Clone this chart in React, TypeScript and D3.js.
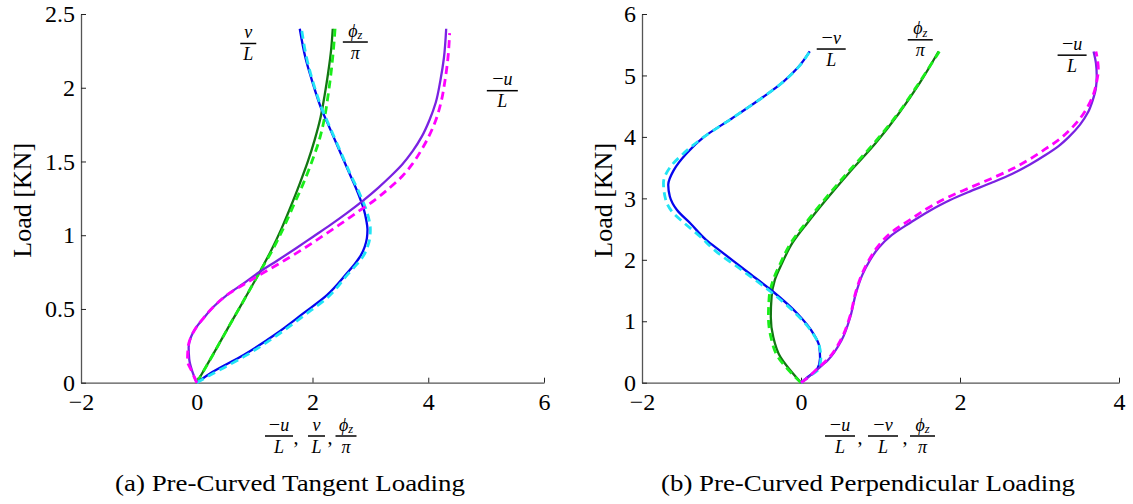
import React, { useEffect, useRef } from "react";
import * as d3 from "d3";

type Pt = [number, number];

// ---------- Panel (a): Pre-Curved Tangent Loading  [ratio, load kN] ----------
const aUSolid: Pt[] = [
  [0, 0], [-0.08, 0.08], [-0.13, 0.16], [-0.14, 0.24], [-0.1, 0.31], [0, 0.38],
  [0.115, 0.436], [0.29, 0.515], [0.52, 0.594], [0.81, 0.673], [1.09, 0.752],
  [1.4, 0.83], [1.71, 0.91], [2.01, 0.99], [2.31, 1.07], [2.61, 1.155],
  [2.89, 1.24], [3.13, 1.32], [3.35, 1.4], [3.55, 1.48], [3.73, 1.57],
  [3.89, 1.67], [4.02, 1.78], [4.13, 1.9], [4.21, 2.05], [4.27, 2.2], [4.31, 2.4],
];
const aUDashed: Pt[] = [
  [0, 0], [-0.09, 0.08], [-0.16, 0.15], [-0.15, 0.24], [-0.1, 0.31], [0, 0.38],
  [0.12, 0.44], [0.29, 0.515], [0.52, 0.594], [0.84, 0.673], [1.18, 0.752],
  [1.52, 0.83], [1.85, 0.91], [2.16, 0.99], [2.46, 1.07], [2.77, 1.155],
  [3.08, 1.24], [3.33, 1.32], [3.55, 1.4], [3.72, 1.48], [3.87, 1.57],
  [4.01, 1.67], [4.13, 1.78], [4.22, 1.9], [4.29, 2.05], [4.34, 2.2], [4.37, 2.37],
];
const aVSolid: Pt[] = [
  [0, 0], [0.23, 0.063], [0.81, 0.188], [1.38, 0.334], [1.84, 0.47], [2.25, 0.594],
  [2.59, 0.74], [2.72, 0.8], [2.83, 0.86], [2.9, 0.92], [2.94, 0.98], [2.95, 1.04],
  [2.93, 1.1], [2.89, 1.17], [2.83, 1.24], [2.75, 1.32], [2.66, 1.4], [2.56, 1.49],
  [2.46, 1.58], [2.36, 1.67], [2.26, 1.76], [2.16, 1.85], [2.07, 1.95],
  [1.99, 2.05], [1.88, 2.2], [1.78, 2.4],
];
const aVDashed: Pt[] = [
  [0, 0], [0.25, 0.055], [0.83, 0.18], [1.4, 0.325], [1.87, 0.46], [2.28, 0.585],
  [2.62, 0.74], [2.76, 0.8], [2.88, 0.86], [2.95, 0.92], [2.99, 0.98], [3.0, 1.04],
  [2.98, 1.1], [2.93, 1.17], [2.86, 1.24], [2.77, 1.32], [2.67, 1.4], [2.57, 1.49],
  [2.47, 1.58], [2.37, 1.67], [2.27, 1.76], [2.17, 1.85], [2.08, 1.95],
  [2.0, 2.05], [1.9, 2.2], [1.81, 2.4],
];
const aPhiSolid: Pt[] = [
  [0, 0], [0.28, 0.19], [0.56, 0.385], [0.83, 0.57], [1.09, 0.752], [1.29, 0.9],
  [1.47, 1.05], [1.63, 1.2], [1.78, 1.35], [1.92, 1.5], [2.04, 1.65], [2.14, 1.8],
  [2.21, 1.95], [2.27, 2.1], [2.32, 2.25], [2.35, 2.4],
];
const aPhiDashed: Pt[] = [
  [0, 0], [0.28, 0.19], [0.56, 0.385], [0.83, 0.57], [1.09, 0.752], [1.31, 0.9],
  [1.5, 1.05], [1.67, 1.2], [1.84, 1.35], [1.99, 1.5], [2.12, 1.65], [2.21, 1.8],
  [2.27, 1.95], [2.32, 2.1], [2.36, 2.25], [2.39, 2.4],
];
const aXTicks = [-2, 0, 2, 4, 6];
const aYTicks = [0, 0.5, 1, 1.5, 2, 2.5];

// ---------- Panel (b): Pre-Curved Perpendicular Loading ----------
const bUSolid: Pt[] = [
  [0, 0], [0.1, 0.1], [0.19, 0.2], [0.34, 0.37], [0.51, 0.69], [0.62, 1.07],
  [0.69, 1.45], [0.77, 1.75], [0.87, 2.0], [0.98, 2.2], [1.14, 2.4], [1.37, 2.6],
  [1.62, 2.8], [1.87, 2.97], [2.1, 3.1], [2.39, 3.25], [2.66, 3.4], [2.88, 3.55],
  [3.07, 3.7], [3.24, 3.85], [3.37, 4.0], [3.51, 4.2], [3.61, 4.4], [3.67, 4.6],
  [3.71, 4.8], [3.72, 5.0], [3.71, 5.2], [3.68, 5.39],
];
const bUDashed: Pt[] = [
  [0, 0], [0.1, 0.1], [0.19, 0.21], [0.34, 0.39], [0.51, 0.72], [0.62, 1.1],
  [0.69, 1.48], [0.77, 1.78], [0.87, 2.03], [0.98, 2.24], [1.14, 2.45], [1.37, 2.65],
  [1.62, 2.86], [1.87, 3.03], [2.1, 3.16], [2.39, 3.32], [2.66, 3.48], [2.88, 3.64],
  [3.07, 3.8], [3.24, 3.95], [3.37, 4.1], [3.51, 4.3], [3.61, 4.5], [3.68, 4.7],
  [3.72, 4.9], [3.74, 5.1], [3.73, 5.25], [3.71, 5.39],
];
const bVSolid: Pt[] = [
  [0, 0], [0.09, 0.1], [0.2, 0.21], [0.24, 0.4], [0.23, 0.59], [0.155, 0.8],
  [-0.05, 1.13], [-0.35, 1.48], [-0.68, 1.81], [-1.02, 2.15], [-1.19, 2.32],
  [-1.39, 2.59], [-1.56, 2.81], [-1.65, 3.03], [-1.67, 3.22], [-1.6, 3.46],
  [-1.44, 3.73], [-1.22, 4.0], [-0.87, 4.3], [-0.53, 4.6], [-0.22, 4.9],
  [-0.03, 5.14], [0.11, 5.39],
];
const bVDashed: Pt[] = [
  [0, 0], [0.1, 0.1], [0.22, 0.22], [0.25, 0.4], [0.23, 0.6], [0.14, 0.82],
  [-0.07, 1.13], [-0.38, 1.48], [-0.72, 1.81], [-1.08, 2.15], [-1.27, 2.38],
  [-1.47, 2.6], [-1.6, 2.75], [-1.7, 2.97], [-1.73, 3.25], [-1.65, 3.5],
  [-1.47, 3.74], [-1.22, 4.0], [-0.87, 4.3], [-0.53, 4.6], [-0.22, 4.9],
  [-0.03, 5.14], [0.11, 5.39],
];
const bPhiSolid: Pt[] = [
  [0, 0], [-0.14, 0.21], [-0.26, 0.42], [-0.35, 0.75], [-0.38, 1.07], [-0.37, 1.4],
  [-0.33, 1.67], [-0.24, 1.94], [-0.11, 2.27], [0.08, 2.6], [0.31, 2.97],
  [0.6, 3.41], [0.94, 3.9], [1.23, 4.38], [1.49, 4.87], [1.73, 5.39],
];
const bPhiDashed: Pt[] = [
  [0, 0], [-0.16, 0.21], [-0.29, 0.42], [-0.38, 0.75], [-0.41, 1.07], [-0.4, 1.4],
  [-0.35, 1.67], [-0.26, 1.94], [-0.13, 2.27], [0.06, 2.6], [0.29, 2.97],
  [0.58, 3.41], [0.92, 3.9], [1.22, 4.38], [1.48, 4.87], [1.74, 5.39],
];
const bXTicks = [-2, 0, 2, 4];
const bYTicks = [0, 1, 2, 3, 4, 5, 6];

const captions = ["(a) Pre-Curved Tangent Loading", "(b) Pre-Curved Perpendicular Loading"];
const yLabel = "Load [KN]";

// ---------- styling ----------
const W = 1133;
const H = 504;
const FONT = "'Liberation Serif', 'Times New Roman', Times, serif";
const C = {
  uSolid: "#7a22e2",
  uDashed: "#ff00ff",
  vSolid: "#0505ee",
  vDashed: "#22e4f4",
  phiSolid: "#127712",
  phiDashed: "#1aee1a",
};

type Part = { t: string; it?: boolean; sub?: string };
const MINUS: Part = { t: "\u2212" };
const U: Part = { t: "u", it: true };
const V: Part = { t: "v", it: true };
const Lp: Part = { t: "L", it: true };
const PI: Part = { t: "\u03c0", it: true };
const PHI: Part = { t: "\u03d5", it: true, sub: "z" };

type FracSpec = { num: Part[]; den: Part[] };

type Panel = {
  xDomain: [number, number];
  yDomain: [number, number];
  xRange: [number, number];
  yRange: [number, number];
  xTicks: number[];
  yTicks: number[];
  series: { pts: Pt[]; color: string; dashed: boolean }[];
  labels: { f: FracSpec; at: Pt; w: number }[];
  xLabel: { f?: FracSpec; comma?: boolean; dx: number; w?: number }[];
  caption: string;
  captionX: number;
  captionW: number;
  yLabelX: number;
};

const fU: FracSpec = { num: [MINUS, U], den: [Lp] };
const fV: FracSpec = { num: [V], den: [Lp] };
const fMV: FracSpec = { num: [MINUS, V], den: [Lp] };
const fPhi: FracSpec = { num: [PHI], den: [PI] };

const panels: Panel[] = [
  {
    xDomain: [-2, 6],
    yDomain: [0, 2.5],
    xRange: [81, 544],
    yRange: [382.7, 14],
    xTicks: aXTicks,
    yTicks: aYTicks,
    series: [
      { pts: aPhiSolid, color: C.phiSolid, dashed: false },
      { pts: aPhiDashed, color: C.phiDashed, dashed: true },
      { pts: aVSolid, color: C.vSolid, dashed: false },
      { pts: aVDashed, color: C.vDashed, dashed: true },
      { pts: aUSolid, color: C.uSolid, dashed: false },
      { pts: aUDashed, color: C.uDashed, dashed: true },
    ],
    labels: [
      { f: fV, at: [0.89, 2.3], w: 16 },
      { f: fPhi, at: [2.74, 2.31], w: 25 },
      { f: fU, at: [5.28, 1.98], w: 31 },
    ],
    xLabel: [
      { f: fU, dx: -33.5, w: 28 },
      { comma: true, dx: -16.5 },
      { f: fV, dx: 4, w: 17 },
      { comma: true, dx: 17.5 },
      { f: fPhi, dx: 33.5, w: 21 },
    ],
    caption: captions[0],
    captionX: 290,
    captionW: 350,
    yLabelX: 31,
  },
  {
    xDomain: [-2, 4],
    yDomain: [0, 6],
    xRange: [642, 1119],
    yRange: [382.7, 14],
    xTicks: bXTicks,
    yTicks: bYTicks,
    series: [
      { pts: bPhiSolid, color: C.phiSolid, dashed: false },
      { pts: bPhiDashed, color: C.phiDashed, dashed: true },
      { pts: bVSolid, color: C.vSolid, dashed: false },
      { pts: bVDashed, color: C.vDashed, dashed: true },
      { pts: bUSolid, color: C.uSolid, dashed: false },
      { pts: bUDashed, color: C.uDashed, dashed: true },
    ],
    labels: [
      { f: fMV, at: [0.38, 5.43], w: 29 },
      { f: fPhi, at: [1.5, 5.58], w: 25 },
      { f: fU, at: [3.41, 5.33], w: 29 },
    ],
    xLabel: [
      { f: fU, dx: -40.5, w: 30 },
      { comma: true, dx: -20.5 },
      { f: fMV, dx: 2.5, w: 30 },
      { comma: true, dx: 24.5 },
      { f: fPhi, dx: 42, w: 25 },
    ],
    caption: captions[1],
    captionX: 868,
    captionW: 414,
    yLabelX: 612,
  },
];

const fmt = (d: d3.NumberValue) => {
  const n = +d;
  return n < 0 ? "\u2212" + Math.abs(n) : String(n);
};

// Adds the parts of one row of a fraction; the first tspan carries the row position.
function addRow(
  text: d3.Selection<SVGTextElement, unknown, null, undefined>,
  parts: Part[],
  fs: number,
  x: number,
  y: number
) {
  parts.forEach((p, i) => {
    const ts = text.append("tspan").text(p.t);
    if (i === 0) ts.attr("x", x).attr("y", y);
    if (p.it) ts.attr("font-style", "italic");
    if (p.t === "\u2212") ts.attr("font-size", fs * 1.12);
    if (p.sub) {
      text
        .append("tspan")
        .attr("font-style", "italic")
        .attr("font-size", fs * 0.7)
        .attr("dy", fs * 0.12)
        .text(p.sub);
    }
  });
}

// A fraction is one text element (numerator + denominator) plus its bar.
function drawFrac(
  parent: d3.Selection<SVGGElement, unknown, null, undefined>,
  cx: number,
  by: number,
  f: FracSpec,
  w: number,
  fs: number
) {
  const g = parent.append("g").attr("font-family", FONT).attr("font-size", fs).attr("fill", "#000");
  const t = g.append("text").attr("text-anchor", "middle");
  addRow(t, f.num, fs, cx, by - 0.3 * fs);
  addRow(t, f.den, fs, cx, by + 0.92 * fs);
  g.append("line")
    .attr("x1", cx - w / 2)
    .attr("x2", cx + w / 2)
    .attr("y1", by)
    .attr("y2", by)
    .attr("stroke", "#000")
    .attr("stroke-width", 1.5);
}

export default function App() {
  const ref = useRef<SVGSVGElement>(null);

  useEffect(() => {
    const svg = d3.select(ref.current as SVGSVGElement);
    svg.selectAll("*").remove();
    svg.append("rect").attr("width", W).attr("height", H).attr("fill", "#fff");

    panels.forEach((p) => {
      const x = d3.scaleLinear().domain(p.xDomain).range(p.xRange);
      const y = d3.scaleLinear().domain(p.yDomain).range(p.yRange);
      const root = svg.append("g");

      // axes
      const gx = root
        .append("g")
        .attr("transform", `translate(0,${p.yRange[0]})`)
        .call(
          d3.axisBottom(x).tickValues(p.xTicks).tickFormat(fmt).tickSizeInner(-5).tickSizeOuter(0).tickPadding(10)
        );
      const gy = root
        .append("g")
        .attr("transform", `translate(${p.xRange[0]},0)`)
        .call(
          d3.axisLeft(y).tickValues(p.yTicks).tickFormat(fmt).tickSizeInner(-5).tickSizeOuter(0).tickPadding(6)
        );
      [gx, gy].forEach((g) => {
        g.attr("font-family", FONT).attr("font-size", 24);
        g.select(".domain").attr("stroke", "#555").attr("stroke-width", 1.3);
        g.selectAll(".tick line").attr("stroke", "#222").attr("stroke-width", 1);
        g.selectAll(".tick text").attr("fill", "#000");
      });

      // curves (load is the independent variable along each path)
      const line = d3
        .line<Pt>()
        .x((d) => x(d[0]))
        .y((d) => y(d[1]))
        .curve(d3.curveMonotoneY);
      p.series.forEach((s) => {
        root
          .append("path")
          .datum(s.pts)
          .attr("d", line)
          .attr("fill", "none")
          .attr("stroke", s.color)
          .attr("stroke-width", s.dashed ? 2.8 : 2.3)
          .attr("stroke-dasharray", s.dashed ? "8,5" : null)
          .attr("stroke-linejoin", "round");
      });

      // in-plot labels
      p.labels.forEach((l) => drawFrac(root, x(l.at[0]), y(l.at[1]), l.f, l.w, 18));

      // x label
      const cx = (p.xRange[0] + p.xRange[1]) / 2;
      const xlBar = 436;
      p.xLabel.forEach((item) => {
        if (item.f) drawFrac(root, cx + item.dx, xlBar, item.f, item.w || 20, 18);
        else
          root
            .append("text")
            .attr("x", cx + item.dx)
            .attr("y", xlBar + 8)
            .attr("text-anchor", "middle")
            .attr("font-family", FONT)
            .attr("font-size", 20)
            .text(",");
      });

      // y label
      const cy = (p.yRange[0] + p.yRange[1]) / 2 + 2;
      root
        .append("text")
        .attr("transform", `translate(${p.yLabelX},${cy}) rotate(-90)`)
        .attr("text-anchor", "middle")
        .attr("font-family", FONT)
        .attr("font-size", 26)
        .text(yLabel);

      // caption
      root
        .append("text")
        .attr("x", p.captionX)
        .attr("y", 491)
        .attr("text-anchor", "middle")
        .attr("font-family", FONT)
        .attr("font-size", 23)
        .attr("textLength", p.captionW)
        .attr("lengthAdjust", "spacingAndGlyphs")
        .text(p.caption);
    });
  }, []);

  return (
    <svg
      ref={ref}
      width={W}
      height={H}
      style={{ position: "absolute", left: 0, top: 0, display: "block" }}
    />
  );
}
